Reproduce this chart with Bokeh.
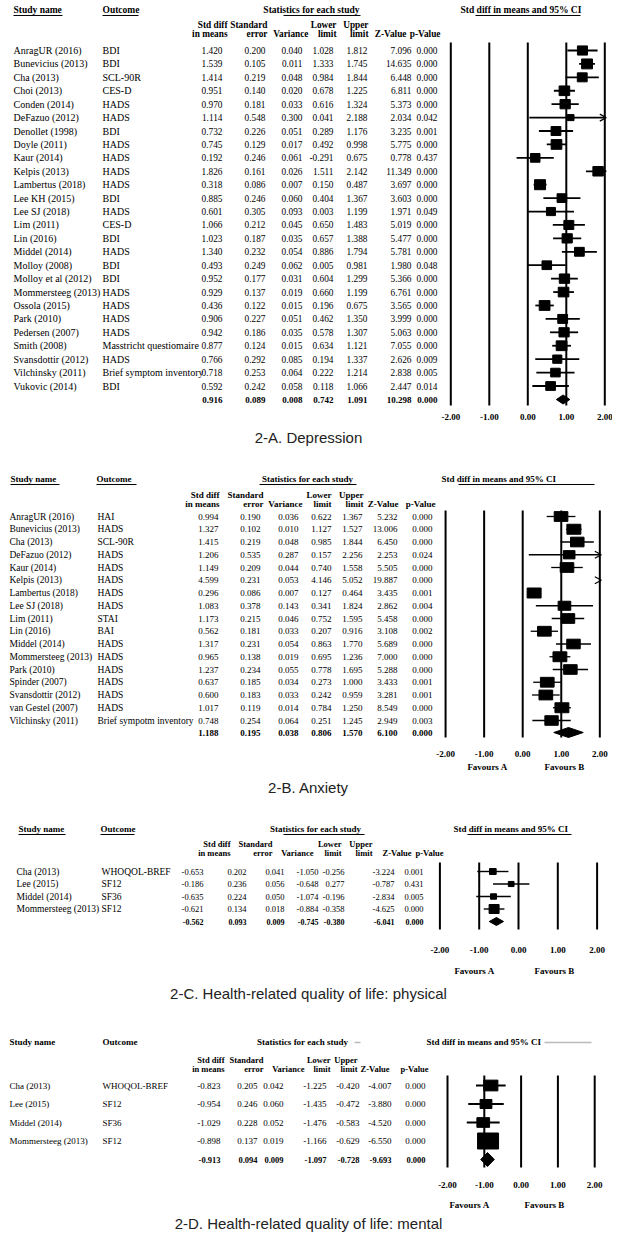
import numpy as np
from bokeh.plotting import figure
from bokeh.models import Range1d
from bokeh.core.properties import value
from bokeh.embed import file_html
from bokeh.resources import INLINE

# ------------------------------------------------------------------ data
ticks = [-2.0, -1.0, 0.0, 1.0, 2.0]
col_headers = [("Std diff", "in means"), ("Standard", "error"), ("", "Variance"),
               ("Lower", "limit"), ("Upper", "limit"), ("", "Z-Value"), ("", "p-Value")]

# 2-A Depression
a_study = ["AnragUR (2016)", "Bunevicius (2013)", "Cha (2013)", "Choi (2013)", "Conden (2014)",
           "DeFazuo (2012)", "Denollet (1998)", "Doyle (2011)", "Kaur (2014)", "Kelpis (2013)",
           "Lambertus (2018)", "Lee KH (2015)", "Lee SJ (2018)", "Lim (2011)", "Lin (2016)",
           "Middel (2014)", "Molloy (2008)", "Molloy et al  (2012)", "Mommersteeg (2013)",
           "Ossola (2015)", "Park (2010)", "Pedersen (2007)", "Smith (2008)",
           "Svansdottir (2012)", "Vilchinsky (2011)", "Vukovic (2014)"]
a_outcome = ["BDI", "BDI", "SCL-90R", "CES-D", "HADS", "HADS", "BDI", "HADS", "HADS", "HADS",
             "HADS", "BDI", "HADS", "CES-D", "BDI", "HADS", "BDI", "BDI", "HADS", "HADS",
             "HADS", "HADS", "Masstricht questiomaire", "HADS", "Brief symptom inventory", "BDI"]
a_std = [1.420, 1.539, 1.414, 0.951, 0.970, 1.114, 0.732, 0.745, 0.192, 1.826, 0.318, 0.885, 0.601,
         1.066, 1.023, 1.340, 0.493, 0.952, 0.929, 0.436, 0.906, 0.942, 0.877, 0.766, 0.718, 0.592]
a_se = [0.200, 0.105, 0.219, 0.140, 0.181, 0.548, 0.226, 0.129, 0.246, 0.161, 0.086, 0.246, 0.305,
        0.212, 0.187, 0.232, 0.249, 0.177, 0.137, 0.122, 0.227, 0.186, 0.124, 0.292, 0.253, 0.242]
a_var = [0.040, 0.011, 0.048, 0.020, 0.033, 0.300, 0.051, 0.017, 0.061, 0.026, 0.007, 0.060, 0.093,
         0.045, 0.035, 0.054, 0.062, 0.031, 0.019, 0.015, 0.051, 0.035, 0.015, 0.085, 0.064, 0.058]
a_lower = [1.028, 1.333, 0.984, 0.678, 0.616, 0.041, 0.289, 0.492, -0.291, 1.511, 0.150, 0.404, 0.003,
           0.650, 0.657, 0.886, 0.005, 0.604, 0.660, 0.196, 0.462, 0.578, 0.634, 0.194, 0.222, 0.118]
a_upper = [1.812, 1.745, 1.844, 1.225, 1.324, 2.188, 1.176, 0.998, 0.675, 2.142, 0.487, 1.367, 1.199,
           1.483, 1.388, 1.794, 0.981, 1.299, 1.199, 0.675, 1.350, 1.307, 1.121, 1.337, 1.214, 1.066]
a_z = [7.096, 14.635, 6.448, 6.811, 5.373, 2.034, 3.235, 5.775, 0.778, 11.349, 3.697, 3.603, 1.971,
       5.019, 5.477, 5.781, 1.980, 5.366, 6.761, 3.565, 3.999, 5.063, 7.055, 2.626, 2.838, 2.447]
a_p = [0.000, 0.000, 0.000, 0.000, 0.000, 0.042, 0.001, 0.000, 0.437, 0.000, 0.000, 0.000, 0.049,
       0.000, 0.000, 0.000, 0.048, 0.000, 0.000, 0.000, 0.000, 0.000, 0.000, 0.009, 0.005, 0.014]
a_summary = [0.916, 0.089, 0.008, 0.742, 1.091, 10.298, 0.000]

# 2-B Anxiety
b_study = ["AnragUR (2016)", "Bunevicius (2013)", "Cha (2013)", "DeFazuo (2012)", "Kaur (2014)",
           "Kelpis (2013)", "Lambertus (2018)", "Lee SJ (2018)", "Lim (2011)", "Lin (2016)",
           "Middel (2014)", "Mommersteeg (2013)", "Park (2010)", "Spinder (2007)",
           "Svansdottir (2012)", "van Gestel (2007)", "Vilchinsky (2011)"]
b_outcome = ["HAI", "HADS", "SCL-90R", "HADS", "HADS", "HADS", "HADS", "HADS", "STAI", "BAI",
             "HADS", "HADS", "HADS", "HADS", "HADS", "HADS", "Brief sympotm inventory"]
b_std = [0.994, 1.327, 1.415, 1.206, 1.149, 4.599, 0.296, 1.083, 1.173, 0.562, 1.317, 0.965, 1.237,
         0.637, 0.600, 1.017, 0.748]
b_se = [0.190, 0.102, 0.219, 0.535, 0.209, 0.231, 0.086, 0.378, 0.215, 0.181, 0.231, 0.138, 0.234,
        0.185, 0.183, 0.119, 0.254]
b_var = [0.036, 0.010, 0.048, 0.287, 0.044, 0.053, 0.007, 0.143, 0.046, 0.033, 0.054, 0.019, 0.055,
         0.034, 0.033, 0.014, 0.064]
b_lower = [0.622, 1.127, 0.985, 0.157, 0.740, 4.146, 0.127, 0.341, 0.752, 0.207, 0.863, 0.695, 0.778,
           0.273, 0.242, 0.784, 0.251]
b_upper = [1.367, 1.527, 1.844, 2.256, 1.558, 5.052, 0.464, 1.824, 1.595, 0.916, 1.770, 1.236, 1.695,
           1.000, 0.959, 1.250, 1.245]
b_z = [5.232, 13.006, 6.450, 2.253, 5.505, 19.887, 3.435, 2.862, 5.458, 3.108, 5.689, 7.000, 5.288,
       3.433, 3.281, 8.549, 2.949]
b_p = [0.000, 0.000, 0.000, 0.024, 0.000, 0.000, 0.001, 0.004, 0.000, 0.002, 0.000, 0.000, 0.000,
       0.001, 0.001, 0.000, 0.003]
b_summary = [1.188, 0.195, 0.038, 0.806, 1.570, 6.100, 0.000]

# 2-C HRQoL physical
c_study = ["Cha (2013)", "Lee  (2015)", "Middel (2014)", "Mommersteeg (2013)"]
c_outcome = ["WHOQOL-BREF", "SF12", "SF36", "SF12"]
c_std = [-0.653, -0.186, -0.635, -0.621]
c_se = [0.202, 0.236, 0.224, 0.134]
c_var = [0.041, 0.056, 0.050, 0.018]
c_lower = [-1.050, -0.648, -1.074, -0.884]
c_upper = [-0.256, 0.277, -0.196, -0.358]
c_z = [-3.224, -0.787, -2.834, -4.625]
c_p = [0.001, 0.431, 0.005, 0.000]
c_summary = [-0.562, 0.093, 0.009, -0.745, -0.380, -6.041, 0.000]

# 2-D HRQoL mental
d_study = ["Cha (2013)", "Lee (2015)", "Middel (2014)", "Mommersteeg (2013)"]
d_outcome = ["WHOQOL-BREF", "SF12", "SF36", "SF12"]
d_std = [-0.823, -0.954, -1.029, -0.898]
d_se = [0.205, 0.246, 0.228, 0.137]
d_var = [0.042, 0.060, 0.052, 0.019]
d_lower = [-1.225, -1.435, -1.476, -1.166]
d_upper = [-0.420, -0.472, -0.583, -0.629]
d_z = [-4.007, -3.880, -4.520, -6.550]
d_p = [0.000, 0.000, 0.000, 0.000]
d_summary = [-0.913, 0.094, 0.009, -1.097, -0.728, -9.693, 0.000]

titles = ["2-A. Depression", "2-B. Anxiety", "2-C. Health-related quality of life: physical",
          "2-D. Health-related quality of life: mental"]

# ------------------------------------------------------------------ layout (page pixels)
LAYOUT = {
    "A": dict(top=9, h1=24, h2=33, row0=50, step=13.42, ysum=399,
              name_x=13, out_x=102, hname_x=13, hout_x=102, stats_c=311, ci_x=460,
              ul=[(13, 62), (102, 138), (283, 360), (475, 580)], gray=[],
              hdr_r=[227, 267, 308, 336, 368, 406, 440], val_r=[222, 265, 302, 333, 367, 411, 437],
              z0=527.3, k=38.5, ltop=42, lbot=405, ylab=416, fav=None, fav_y=None, title_y=437,
              fs_name=10, fs_val=9.3, fs_hdr=9.3, fs_top=9.5, fs_sum=9, box=(11, 10), ci_w=1.8,
              dia_h=4.5),
    "B": dict(top=478, h1=494, h2=503, row0=516, step=12.75, ysum=732,
              name_x=9, out_x=97, hname_x=10, hout_x=96, stats_c=307, ci_x=441,
              ul=[(10, 59), (96, 136), (259, 356), (458, 594)], gray=[],
              hdr_r=[219, 263, 302, 331, 363, 398, 435], val_r=[218, 260, 298, 331, 362, 397, 432],
              z0=522.2, k=38.56, ltop=510, lbot=737, ylab=753, fav=(487, 564), fav_y=766, title_y=787,
              fs_name=9.5, fs_val=9, fs_hdr=9, fs_top=9, fs_sum=9, box=(14, 10), ci_w=1.3, dia_h=5),
    "C": dict(top=828, h1=843, h2=852, row0=871, step=12.5, ysum=921,
              name_x=16, out_x=101, hname_x=18, hout_x=100, stats_c=315, ci_x=453,
              ul=[(18, 65), (100, 134), (283, 364), (467, 571)], gray=[],
              hdr_r=[230, 272, 313, 341, 372, 411, 443], val_r=[203, 246, 284, 318, 344, 394, 423],
              z0=518.0, k=39.3, ltop=862, lbot=929, ylab=949, fav=(474, 554), fav_y=970, title_y=993,
              fs_name=9.5, fs_val=8.5, fs_hdr=8.5, fs_top=9, fs_sum=8, box=(10, 9), ci_w=1.4, dia_h=4),
    "D": dict(top=1041, h1=1059, h2=1068, row0=1085, step=18.5, ysum=1159,
              name_x=9, out_x=102, hname_x=9, hout_x=102, stats_c=302, ci_x=426,
              ul=[], gray=[(354, 360), (544, 591)],
              hdr_r=[224, 263, 304, 330, 357, 389, 428], val_r=[220, 257, 283, 326, 359, 391, 425],
              z0=520.6, k=36.8, ltop=1075, lbot=1167, ylab=1184, fav=(469, 544), fav_y=1204,
              title_y=1223,
              fs_name=9, fs_val=9, fs_hdr=8.5, fs_top=9, fs_sum=8.5, box=(21, 16), ci_w=2, dia_h=7),
}

SERIF = value("Liberation Serif")
SANS = value("Liberation Sans")

W, H = 612, 1246
p = figure(width=W, height=H, x_range=Range1d(0, W), y_range=Range1d(H, 0),
           output_backend="svg", toolbar_location=None, x_axis_location=None,
           y_axis_location=None, min_border=0)
p.grid.visible = False
p.outline_line_color = None
p.background_fill_color = "white"
p.border_fill_color = "white"


def txt(xs, ys, texts, size, bold=False, align="left", font=SERIF, color="black", rng="default"):
    p.text(x=list(xs), y=list(ys), text=list(texts), text_font=font,
           text_font_size=f"{size}px", text_font_style="bold" if bold else "normal",
           text_align=align, text_baseline="middle", text_color=color, x_range_name=rng)


def box_scale(std, var):
    y = np.asarray(std, float)
    v = np.asarray(var, float)
    w = 1.0 / v
    ybar = (w * y).sum() / w.sum()
    q = (w * (y - ybar) ** 2).sum()
    c = w.sum() - (w ** 2).sum() / w.sum()
    tau2 = max(0.0, (q - (len(y) - 1)) / c)
    wr = 1.0 / (v + tau2)
    return np.sqrt(wr / wr.max())


def panel(key, title, study, outcome, cols, summ):
    L = LAYOUT[key]
    n = len(study)
    ys = [L["row0"] + i * L["step"] for i in range(n)]

    # top header
    t = L["top"]
    ft = L["fs_top"]
    txt([L["hname_x"]], [t], ["Study name"], ft, True)
    txt([L["hout_x"]], [t], ["Outcome"], ft, True)
    txt([L["stats_c"]], [t], ["Statistics for each study"], ft, True, "center")
    txt([L["ci_x"]], [t], ["Std diff in means and 95% CI"], ft, True)
    if L["ul"]:
        p.segment(x0=[u[0] for u in L["ul"]], x1=[u[1] for u in L["ul"]],
                  y0=[t + 6] * len(L["ul"]), y1=[t + 6] * len(L["ul"]),
                  line_color="black", line_width=1)
    if L["gray"]:
        p.segment(x0=[u[0] for u in L["gray"]], x1=[u[1] for u in L["gray"]],
                  y0=[t + 1] * len(L["gray"]), y1=[t + 1] * len(L["gray"]),
                  line_color="#bbbbbb", line_width=1.5)

    # column headers
    for (l1, l2), rx in zip(col_headers, L["hdr_r"]):
        if l1:
            txt([rx], [L["h1"]], [l1], L["fs_hdr"], True, "right")
        txt([rx], [L["h2"]], [l2], L["fs_hdr"], True, "right")

    # rows
    txt([L["name_x"]] * n, ys, study, L["fs_name"])
    txt([L["out_x"]] * n, ys, outcome, L["fs_name"])
    for vals, rx in zip(cols, L["val_r"]):
        txt([rx] * n, ys, [f"{v:.3f}" for v in vals], L["fs_val"], False, "right")
    for v, rx in zip(summ, L["val_r"]):
        txt([rx], [L["ysum"]], [f"{v:.3f}"], L["fs_sum"], True, "right")

    # forest plot
    rng = "es" + key
    z0, k = L["z0"], L["k"]
    p.extra_x_ranges[rng] = Range1d((0 - z0) / k, (W - z0) / k)
    p.segment(x0=ticks, x1=ticks, y0=[L["ltop"]] * 5, y1=[L["lbot"]] * 5,
              line_color="black", line_width=2, x_range_name=rng)
    txt(ticks, [L["ylab"]] * 5, [f"{tk:.2f}" for tk in ticks], 9, True, "center", rng=rng)

    std, lower, upper, var = cols[0], cols[3], cols[4], cols[2]
    lim = ticks[-1]
    hx = 5.0 / k
    sx0, sx1, sy = [], [], []
    ax0, ax1, ay0, ay1 = [], [], [], []
    for i in range(n):
        lo = max(lower[i], -lim)
        hi = min(upper[i], lim)
        if lo < lim:
            sx0.append(lo); sx1.append(hi); sy.append(ys[i])
        if upper[i] > lim:
            for dy in (-3.5, 3.5):
                ax0.append(lim - hx); ax1.append(lim + 0.3 * hx)
                ay0.append(ys[i] + dy); ay1.append(ys[i])
    p.segment(x0=sx0, x1=sx1, y0=sy, y1=sy, line_color="black", line_width=L["ci_w"],
              x_range_name=rng)
    if ax0:
        p.segment(x0=ax0, x1=ax1, y0=ay0, y1=ay1, line_color="black", line_width=1.2,
                  x_range_name=rng)

    sc = box_scale(std, var)
    inr = [i for i in range(n) if abs(std[i]) <= lim]
    bw, bh = L["box"]
    p.rect(x=[std[i] for i in inr], y=[ys[i] for i in inr],
           width=[bw * sc[i] for i in inr], height=[bh * sc[i] for i in inr],
           width_units="screen", height_units="screen",
           fill_color="black", line_color="black", x_range_name=rng)

    m, slo, shi = summ[0], summ[3], summ[4]
    yc, dh = L["ysum"], L["dia_h"]
    p.patch(x=[slo, m, shi, m], y=[yc, yc - dh, yc, yc + dh], fill_color="black",
            line_color="black", x_range_name=rng)

    if L["fav"]:
        txt(list(L["fav"]), [L["fav_y"]] * 2, ["Favours A", "Favours B"], 9, True, "center")
    txt([308], [L["title_y"]], [title], 15, False, "center", font=SANS, color="#222222")


panel("A", titles[0], a_study, a_outcome, [a_std, a_se, a_var, a_lower, a_upper, a_z, a_p], a_summary)
panel("B", titles[1], b_study, b_outcome, [b_std, b_se, b_var, b_lower, b_upper, b_z, b_p], b_summary)
panel("C", titles[2], c_study, c_outcome, [c_std, c_se, c_var, c_lower, c_upper, c_z, c_p], c_summary)
panel("D", titles[3], d_study, d_outcome, [d_std, d_se, d_var, d_lower, d_upper, d_z, d_p], d_summary)

open("out.html", "w").write(file_html(p, INLINE))
